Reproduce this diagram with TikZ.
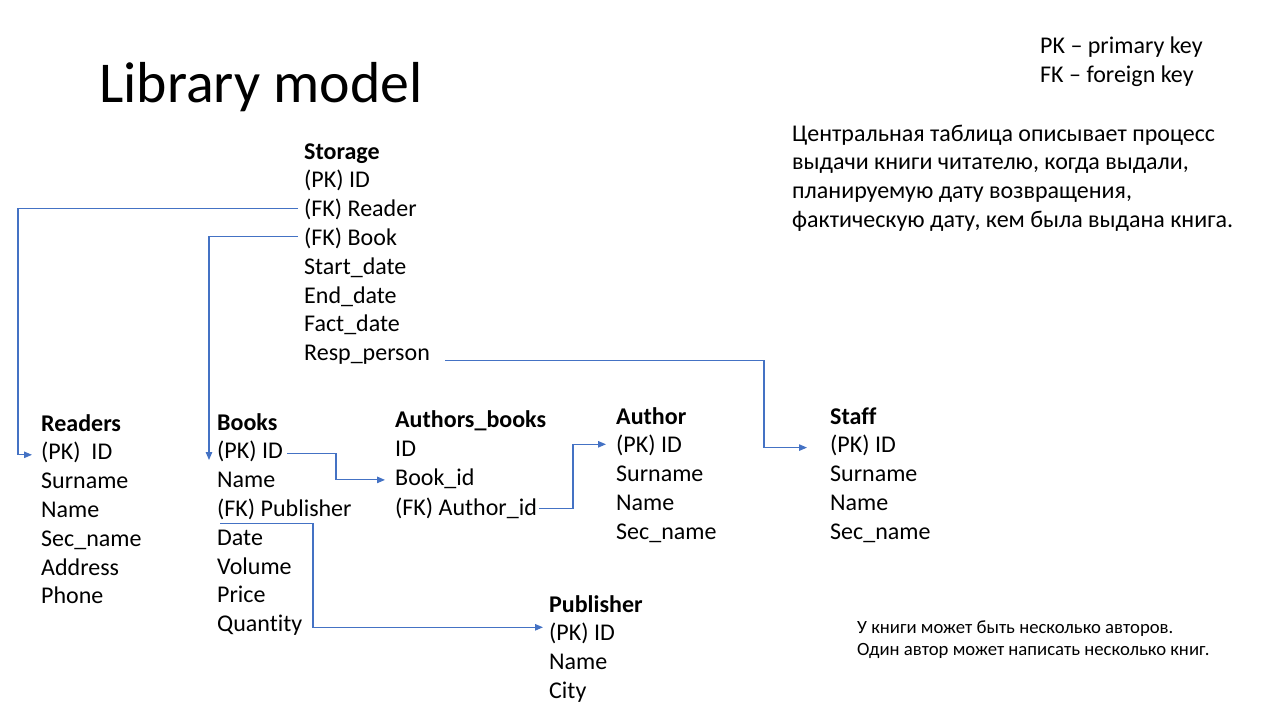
\documentclass[tikz,border=0pt]{standalone}
\usepackage{fontspec}
\setmainfont{Carlito}[Ligatures=NoCommon]
\usetikzlibrary{arrows.meta,calc}
\definecolor{conncol}{HTML}{4472C4}
\tikzset{
  row/.style={anchor=base west,inner sep=0pt,font=\fontsize{24}{28.8}\selectfont},
  hdr/.style={row,font=\fontsize{24}{28.8}\selectfont\bfseries},
  note/.style={anchor=base west,inner sep=0pt,font=\fontsize{24}{28.8}\selectfont},
  small/.style={anchor=base west,inner sep=0pt,font=\fontsize{18.7}{22.4}\selectfont},
  conn/.style={draw=conncol,line width=1.1pt,-{Triangle[length=8pt,width=6.5pt]}}
}
\begin{document}
\begin{tikzpicture}[x=1pt,y=-1pt]
\useasboundingbox (0,0) rectangle (1280,720);
% title
\node[anchor=base west,inner sep=0pt,font=\fontsize{57.8}{70}\selectfont] (title) at (99,102.5) {Library model};
% legend
\node[note] (pk) at (1040,53) {PK – primary key};
\node[note] (fk) at (1040,82.5) {FK – foreign key};
% description
\node[note] (d1) at (792,141) {Центральная таблица описывает процесс};
\node[note] (d2) at (792,169.8) {выдачи книги читателю, когда выдали,};
\node[note] (d3) at (792,198.6) {планируемую дату возвращения,};
\node[note] (d4) at (792,227.4) {фактическую дату, кем была выдана книга.};
% bottom note
\node[small] (n1) at (857,633) {У книги может быть несколько авторов.};
\node[small] (n2) at (857,655.7) {Один автор может написать несколько книг.};
% Storage
\node[hdr] (s0) at (304,159) {Storage};
\foreach \t [count=\i] in {(PK) ID,(FK) Reader,(FK) Book,Start\_date,End\_date,Fact\_date,Resp\_person}
  \node[row] (s\i) at (304,159+28.8*\i) {\t};
% Readers
\node[hdr] (r0) at (41,431) {Readers};
\foreach \t [count=\i] in {(PK)\ \ ID,Surname,Name,Sec\_name,Address,Phone}
  \node[row] (r\i) at (41,431+28.8*\i) {\t};
% Books
\node[hdr] (k0) at (217,430) {Books};
\foreach \t [count=\i] in {(PK) ID,Name,(FK) Publisher,Date,Volume,Price,Quantity}
  \node[row] (k\i) at (217,430+28.8*\i) {\t};
% Authors_books
\node[hdr] (ab0) at (395,427.5) {Authors\_books};
\foreach \t [count=\i] in {ID,Book\_id,(FK) Author\_id}
  \node[row] (ab\i) at (395,427.5+29.2*\i) {\t};
% Author
\node[hdr] (a0) at (616,424) {Author};
\foreach \t [count=\i] in {(PK) ID,Surname,Name,Sec\_name}
  \node[row] (a\i) at (616,424+28.8*\i) {\t};
% Staff
\node[hdr] (f0) at (830,424) {Staff};
\foreach \t [count=\i] in {(PK) ID,Surname,Name,Sec\_name}
  \node[row] (f\i) at (830,424+28.8*\i) {\t};
% Publisher
\node[hdr] (p0) at (549,612) {Publisher};
\foreach \t [count=\i] in {(PK) ID,Name,City}
  \node[row] (p\i) at (549,612+28.8*\i) {\t};
% vertical guide coordinates
\coordinate (vr) at (18,0);
\coordinate (vb) at (209,0);
\coordinate (vk) at (336,0);
\coordinate (va) at (573,0);
\coordinate (vs) at (764,0);
\coordinate (vp) at (313,0);
% connector ends
\coordinate (c1s) at ([shift={(-6,-8.5)}]s2.base west);
\coordinate (c1e) at ([shift={(-9,-5)}]r1.base west);
\coordinate (c2s) at ([shift={(-6,-8.5)}]s3.base west);
\coordinate (c2e) at ([shift={(-8,1.2)}]k1.base west);
\coordinate (c3s) at ([shift={(4,-5.5)}]k1.base east);
\coordinate (c3e) at ([shift={(-10,-6)}]ab2.base west);
\coordinate (c4s) at ([shift={(2,-6.5)}]ab3.base east);
\coordinate (c4e) at ([shift={(-10,-8.5)}]a1.base west);
\coordinate (c5s) at ([shift={(15,-0.5)}]s7.base east);
\coordinate (c5e) at ([shift={(-23,-5.2)}]f1.base west);
\coordinate (c6s) at ([shift={(3,7.5)}]k3.base west);
\coordinate (c6e) at ([shift={(-6,-13.5)}]p1.base west);
% connectors
\draw[conn] (c1s) -- (c1s -| vr) |- (c1e);
\draw[conn] (c2s) -| (c2s -| vb) -- (c2e);
\draw[conn] (c3s) -- (c3s -| vk) |- (c3e);
\draw[conn] (c4s) -- (c4s -| va) |- (c4e);
\draw[conn] (c5s) -- (c5s -| vs) |- (c5e);
\draw[conn] (c6s) -- (c6s -| vp) |- (c6e);
\end{tikzpicture}
\end{document}
